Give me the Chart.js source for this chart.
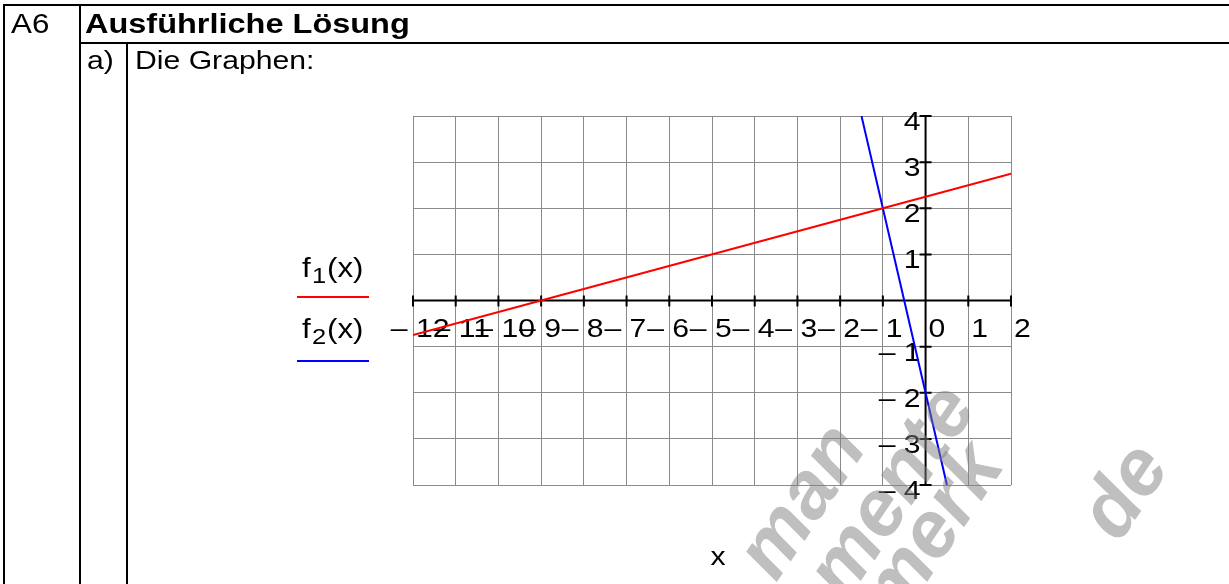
<!DOCTYPE html>
<html>
<head>
<meta charset="utf-8">
<script src="https://cdn.jsdelivr.net/npm/chart.js@4.4.1/dist/chart.umd.min.js"></script>
<style>
  html, body { margin: 0; padding: 0; background: #fff; }
  #page { position: relative; width: 1229px; height: 584px; overflow: hidden; font-family: "Liberation Sans", Arial, sans-serif; color: #000; }
  #page canvas { position: absolute; left: 0; top: 0; }
  .rule { position: absolute; background: #000; }
  .txt { position: absolute; white-space: nowrap; line-height: 1; transform: scaleX(1.16); transform-origin: 0 0; }
</style>
</head>
<body>
<div id="page">
  <canvas id="graph" width="1229" height="584"></canvas>

  <div class="rule" style="left:3px;top:4px;width:1226px;height:2px"></div>
  <div class="rule" style="left:79px;top:42px;width:1150px;height:2px"></div>
  <div class="rule" style="left:3px;top:4px;width:2px;height:580px"></div>
  <div class="rule" style="left:79px;top:4px;width:2px;height:580px"></div>
  <div class="rule" style="left:126px;top:42px;width:2px;height:542px"></div>

  <div class="txt" style="left:11px;top:11px;font-size:27px">A6</div>
  <div class="txt" style="left:85px;top:10px;font-size:28px;font-weight:bold">Ausführliche Lösung</div>
  <div class="txt" style="left:87px;top:47px;font-size:26px">a)</div>
  <div class="txt" style="left:135px;top:47px;font-size:26px">Die Graphen:</div>
</div>

<script>
// Werte
const xTickValues = [-12, -11, -10, -9, -8, -7, -6, -5, -4, -3, -2, -1, 0, 1, 2];
const xTickLabels = ['– 12', '– 11', '– 10', '– 9', '– 8', '– 7', '– 6', '– 5', '– 4', '– 3', '– 2', '– 1', '0', '1', '2'];
const yTickValues = [-4, -3, -2, -1, 1, 2, 3, 4];
const yTickLabels = ['– 4', '– 3', '– 2', '– 1', '1', '2', '3', '4'];

// f1(x): rote Gerade
const f1X = [-12, -9, -1, 0, 2];
const f1Y = [-0.75, 0, 2, 2.25, 2.75];
// f2(x): blaue Gerade
const f2X = [-1.5, -1, -0.5, 0, 0.5];
const f2Y = [4, 2, 0, -2, -4];

const STRETCH = 1.16;
const FONT = '"Liberation Sans", Arial, sans-serif';

function wideText(ctx, text, x, y, align) {
  ctx.save();
  ctx.translate(x, y);
  ctx.scale(STRETCH, 1);
  ctx.textAlign = align || 'left';
  ctx.textBaseline = 'alphabetic';
  ctx.fillText(text, 0, 0);
  ctx.restore();
}

function toPoints(xs, ys) {
  return xs.map((x, i) => ({ x: x, y: ys[i] }));
}

// Achsenkreuz mit Strichen und Beschriftung (Mathcad-Stil)
const crossAxes = {
  id: 'crossAxes',
  beforeDatasetsDraw(chart) {
    const { ctx, chartArea, scales } = chart;
    const x0 = scales.x.getPixelForValue(0);
    const y0 = scales.y.getPixelForValue(0);

    ctx.save();
    ctx.strokeStyle = '#000';
    ctx.lineWidth = 2;
    ctx.beginPath();
    ctx.moveTo(chartArea.left, y0);
    ctx.lineTo(chartArea.right, y0);
    ctx.moveTo(x0, chartArea.top);
    ctx.lineTo(x0, chartArea.bottom);
    xTickValues.forEach(v => {
      const px = scales.x.getPixelForValue(v);
      ctx.moveTo(px, y0 - 5);
      ctx.lineTo(px, y0 + 6);
    });
    yTickValues.forEach(v => {
      const py = scales.y.getPixelForValue(v);
      ctx.moveTo(x0 - 6, py);
      ctx.lineTo(x0 + 6, py);
    });
    ctx.stroke();

    ctx.fillStyle = '#000';
    ctx.font = '26px ' + FONT;
    xTickValues.forEach((v, i) => {
      const px = scales.x.getPixelForValue(v);
      const label = xTickLabels[i];
      let start = px + 3;
      if (label.startsWith('–')) {
        start -= ctx.measureText('– ').width * STRETCH;
      }
      wideText(ctx, label, start, y0 + 36, 'left');
    });
    yTickValues.forEach((v, i) => {
      const py = scales.y.getPixelForValue(v);
      wideText(ctx, yTickLabels[i], x0 - 5, py + 14, 'right');
    });
    ctx.restore();
  },
  afterDraw(chart) {
    const { ctx, chartArea } = chart;
    const midY = (chartArea.top + chartArea.bottom) / 2;
    const left = chartArea.left;

    ctx.save();
    // Legende links
    ctx.fillStyle = '#000';
    const names = [
      { sub: '1', color: '#ff0000', base: midY - 24, line: midY - 3.5 },
      { sub: '2', color: '#0000ff', base: midY + 37, line: midY + 60.5 }
    ];
    names.forEach(n => {
      ctx.font = '27px ' + FONT;
      wideText(ctx, 'f', left - 111, n.base);
      ctx.font = '22px ' + FONT;
      wideText(ctx, n.sub, left - 101, n.base + 6);
      ctx.font = '27px ' + FONT;
      wideText(ctx, '(x)', left - 86, n.base);
      ctx.strokeStyle = n.color;
      ctx.lineWidth = 2;
      ctx.beginPath();
      ctx.moveTo(left - 116, n.line);
      ctx.lineTo(left - 44, n.line);
      ctx.stroke();
    });

    // x-Beschriftung unten
    ctx.font = '26px ' + FONT;
    wideText(ctx, 'x', (chartArea.left + chartArea.right) / 2 + 6, chartArea.bottom + 80, 'center');

    // Wasserzeichen
    ctx.fillStyle = 'rgba(128,128,128,0.5)';
    ctx.font = 'italic bold 80px ' + FONT;
    ctx.textAlign = 'center';
    const marks = [
      { t: 'man', x: 822, y: 515 },
      { t: 'mente', x: 912, y: 505 },
      { t: 'merk', x: 952, y: 545 },
      { t: 'de', x: 1145, y: 505 }
    ];
    marks.forEach(m => {
      ctx.save();
      ctx.translate(m.x, m.y);
      ctx.rotate(-56 * Math.PI / 180);
      ctx.fillText(m.t, 0, 0);
      ctx.restore();
    });
    ctx.restore();
  }
};

new Chart(document.getElementById('graph'), {
  type: 'line',
  data: {
    datasets: [
      {
        label: 'f1(x)',
        data: toPoints(f1X, f1Y),
        borderColor: '#ff0000',
        borderWidth: 2,
        pointRadius: 0,
        tension: 0,
      },
      {
        label: 'f2(x)',
        data: toPoints(f2X, f2Y),
        borderColor: '#0000ff',
        borderWidth: 2,
        pointRadius: 0,
        tension: 0,
      },
    ],
  },
  options: {
    responsive: false,
    animation: false,
    devicePixelRatio: 1,
    layout: { autoPadding: false, padding: { left: 413, top: 116, right: 218, bottom: 99 } },
    plugins: { legend: { display: false }, tooltip: { enabled: false } },
    scales: {
      x: {
        type: 'linear', min: -12, max: 2,
        ticks: { stepSize: 1, display: false },
        grid: { color: '#8a8a8a', lineWidth: 1, drawTicks: false },
        border: { display: false },
        afterFit: s => { s.height = 0; },
      },
      y: {
        type: 'linear', min: -4, max: 4,
        ticks: { stepSize: 1, display: false },
        grid: { color: '#8a8a8a', lineWidth: 1, drawTicks: false },
        border: { display: false },
        afterFit: s => { s.width = 0; },
      },
    },
  },
  plugins: [crossAxes],
});
</script>
</body>
</html>
